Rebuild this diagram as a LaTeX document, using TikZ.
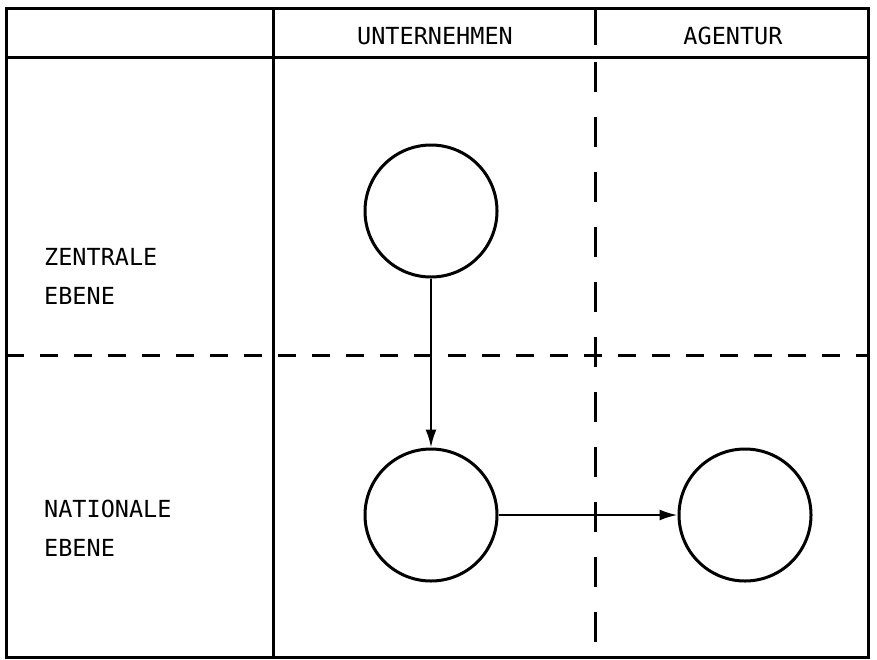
\documentclass[tikz,border=0pt]{standalone}
\usepackage{fontspec}
\setmonofont{DejaVu Sans Mono}
\usetikzlibrary{arrows.meta}

\begin{document}
\begin{tikzpicture}[x=1pt,y=-1pt,
  lbl/.style={font=\ttfamily\fontsize{23.5}{28}\selectfont,inner sep=0pt},
  stelle/.style={circle,draw,line width=3pt,minimum size=132pt,inner sep=0pt},
  fluss/.style={line width=2.2pt,-{Latex[length=18pt,width=11pt]}},
  rand/.style={line width=3pt},
  trenn/.style={line width=3pt,dash pattern=on 18pt off 16pt}]
  \useasboundingbox (0,0) rectangle (877,659);
  % Rahmen und Kopfzeile
  \draw[rand] (6,8) rectangle (868,657);
  \draw[rand] (6,57) -- (868,57);
  \draw[rand] (273,8) -- (273,657);
  \draw[rand] (595,8) -- (595,45);
  \draw[rand,dash pattern=on 30pt off 25pt] (595,62) -- (595,657);
  \draw[trenn] (6,355) -- (868,355);
  % Beschriftungen
  \node[lbl] (unt) at (435,36) {UNTERNEHMEN};
  \node[lbl] (age) at (733,36) {AGENTUR};
  \node[lbl,anchor=west] (zen1) at (44,257) {ZENTRALE};
  \node[lbl,anchor=west] (zen2) at (44,296) {EBENE};
  \node[lbl,anchor=west] (nat1) at (44,509) {NATIONALE};
  \node[lbl,anchor=west] (nat2) at (44,548) {EBENE};
  % Stellen
  \node[stelle] (zu) at (431,211) {};
  \node[stelle] (nu) at (431,515) {};
  \node[stelle] (na) at (745,515) {};
  \draw[fluss] (zu) -- (nu);
  \draw[fluss] (nu) -- (na);
\end{tikzpicture}
\end{document}
